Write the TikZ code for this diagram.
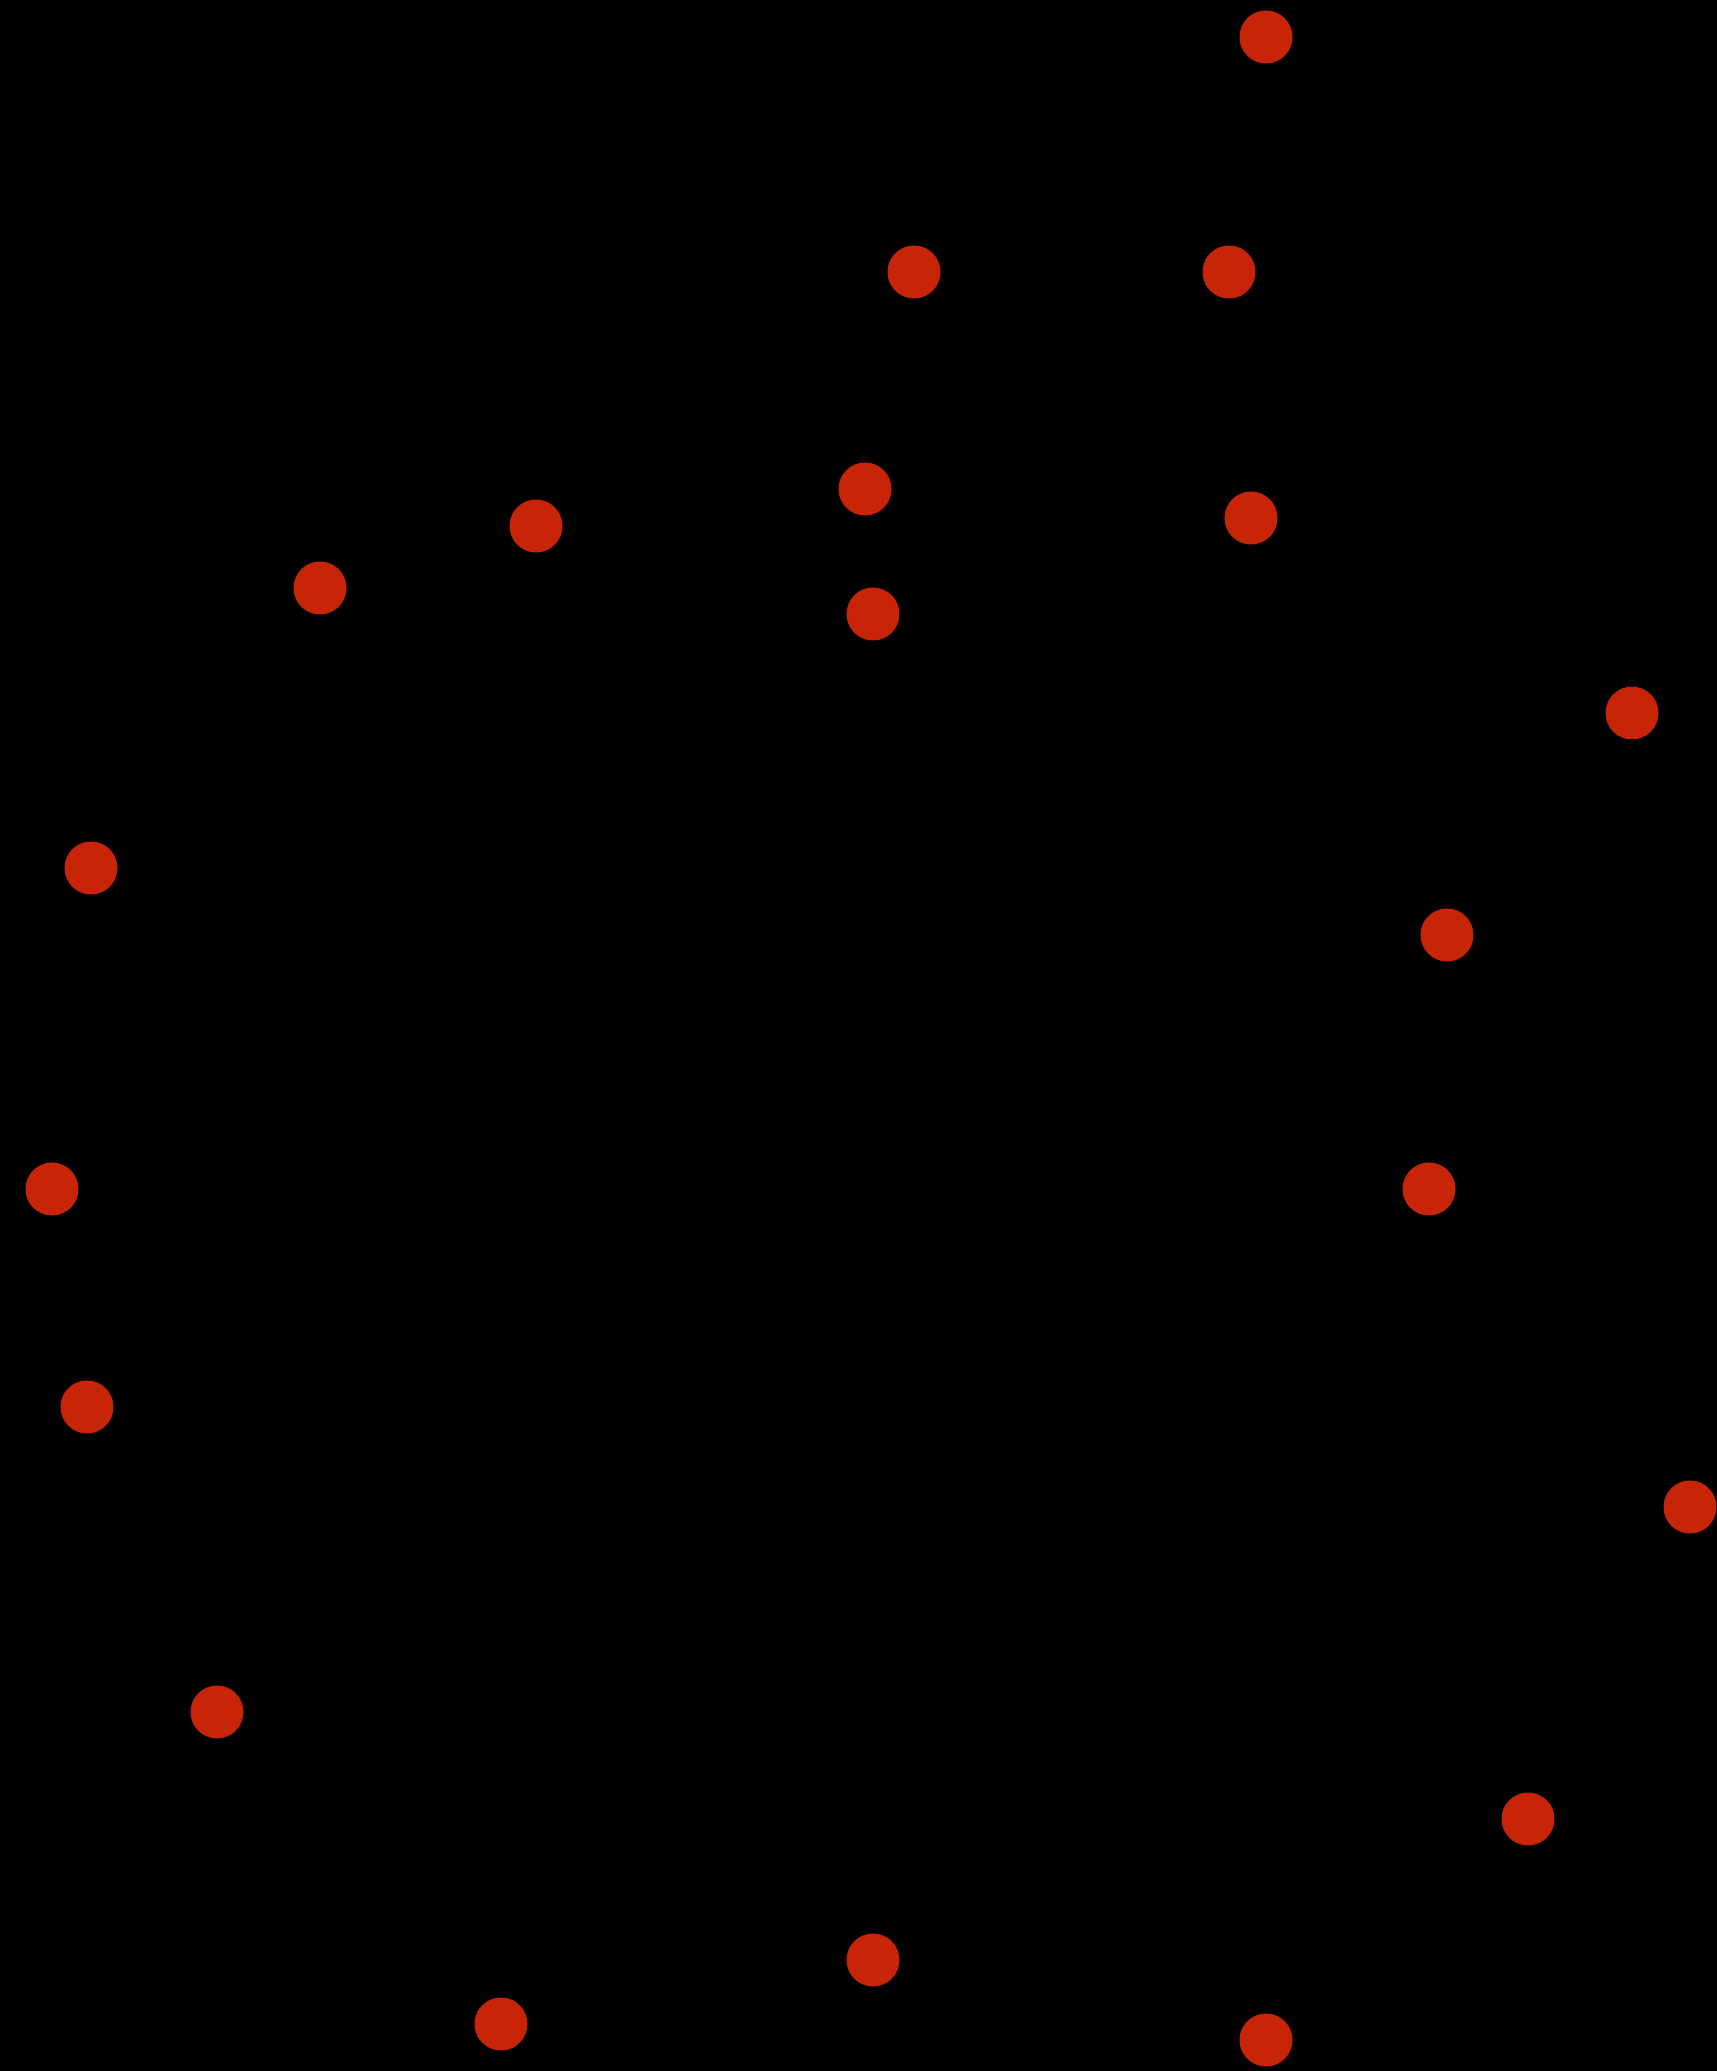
\documentclass[tikz,border=0pt]{standalone}
\usepackage{tikz}
\definecolor{dotred}{RGB}{200,36,8}

\begin{document}
\begin{tikzpicture}[
    background/.style={fill=black},
    vertex/.style={circle, fill=dotred, inner sep=0pt, minimum size=5.3mm}
]
\useasboundingbox (0,0) rectangle (17.16,20.71);
\fill[background] (-0.1,-0.1) rectangle (17.26,20.81);
\foreach \n/\x/\y in {1/12.66/20.34, 2/9.14/17.99, 3/12.29/17.99, 4/8.65/15.82,
    5/12.51/15.53, 6/5.36/15.45, 7/3.20/14.83, 8/8.73/14.57, 9/16.32/13.58,
    10/0.91/12.03, 11/14.47/11.36, 12/0.52/8.82, 13/14.29/8.82, 14/0.87/6.64,
    15/16.90/5.64, 16/2.17/3.59, 17/15.28/2.52, 18/8.73/1.11, 19/5.01/0.47,
    20/12.66/0.31}{\node[vertex] (v\n) at (\x,\y) {};}
\end{tikzpicture}
\end{document}
